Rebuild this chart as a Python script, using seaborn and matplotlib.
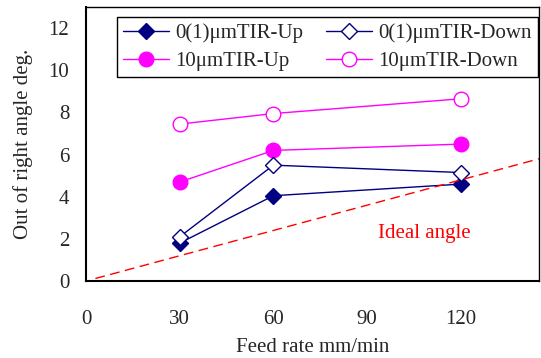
import matplotlib
matplotlib.use("Agg")
import matplotlib.pyplot as plt
import numpy as np
import pandas as pd
import seaborn as sns

feed = [30, 60, 120]
tir0_up = [1.8, 4.05, 4.6]
tir0_down = [2.1, 5.5, 5.15]
tir10_up = [4.7, 6.2, 6.5]
tir10_down = [7.45, 7.95, 8.65]
ideal_x = [3, 30, 60, 120, 150]
ideal_y = [0.12, 1.2, 2.4, 4.8, 6.0]

sns.set_style("white")
plt.rcParams['font.family'] = ['Liberation Serif', 'DejaVu Serif']
plt.rcParams['font.size'] = 15

fig = plt.figure(figsize=(5.41, 3.58), dpi=100)
ax = fig.add_axes([0.159, 0.215, 0.837, 0.765])

series = [
    ("0(1)\u03bcmTIR-Up", tir0_up, "#000080", "D", True, 8.5),
    ("10\u03bcmTIR-Up", tir10_up, "#ff00ff", "o", True, 10.5),
    ("0(1)\u03bcmTIR-Down", tir0_down, "#000080", "D", False, 8.5),
    ("10\u03bcmTIR-Down", tir10_down, "#ff00ff", "o", False, 10.5),
]
for name, vals, col, mk, filled, ms in series:
    df = pd.DataFrame({"x": feed, "y": vals})
    sns.lineplot(data=df, x="x", y="y", ax=ax, color=col, marker=mk,
                 markersize=ms, markerfacecolor=col if filled else "white",
                 markeredgecolor=col, markeredgewidth=1.0, linewidth=1.0,
                 label=name)

sns.lineplot(x=ideal_x, y=ideal_y, ax=ax, color="red", linewidth=1.0,
             linestyle="--", legend=False)
ax.lines[-1].set_dashes((7, 4))
ax.text(123, 2.25, "Ideal angle", color="red", ha="right", va="center", fontsize=15)

ax.set_xlim(0, 145)
ax.set_ylim(0, 13)
ax.set_xticks([0, 30, 60, 90, 120])
ax.set_yticks([0, 2, 4, 6, 8, 10, 12])
ax.tick_params(direction="in", length=6, width=1, color="black", labelsize=15)
ax.tick_params(axis="x", pad=21)
ax.tick_params(axis="y", pad=12)
ax.set_xlabel("Feed rate mm/min", labelpad=6, fontsize=15)
ax.set_ylabel("Out of right angle deg.", labelpad=11, fontsize=15)
for s in ax.spines.values():
    s.set_color("black")
    s.set_linewidth(1.0)
ax.spines["bottom"].set_linewidth(1.5)
ax.spines["left"].set_linewidth(1.5)

leg = ax.legend(ncol=2, loc="upper left", bbox_to_anchor=(0.068, 0.963),
                borderaxespad=0, frameon=True, fancybox=False, framealpha=1,
                edgecolor="black", handlelength=2.2, columnspacing=1.1,
                handletextpad=0.3, borderpad=0.3, labelspacing=0.4, fontsize=15)
leg.get_frame().set_linewidth(1.0)

fig.savefig("out.png", dpi=100)
